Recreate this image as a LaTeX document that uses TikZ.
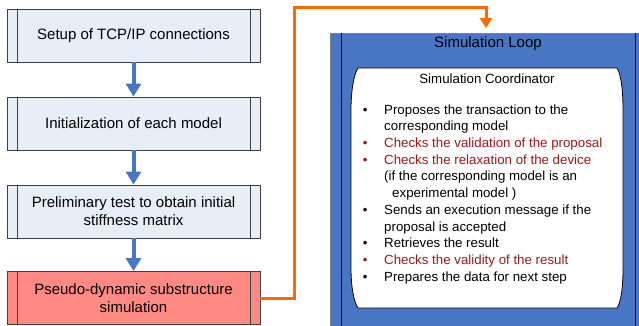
\documentclass[tikz,border=0pt]{standalone}
\usepackage{fontspec}
\setmainfont{Liberation Sans}
\usetikzlibrary{arrows.meta}
\definecolor{boxfill}{RGB}{232,238,248}
\definecolor{redfill}{RGB}{255,138,132}
\definecolor{loopblue}{RGB}{72,118,196}
\definecolor{arrowblue}{RGB}{70,118,198}
\definecolor{orangeline}{RGB}{255,106,0}
\definecolor{darkred}{RGB}{150,28,28}
\definecolor{edgegray}{RGB}{64,64,64}
\begin{document}
\begin{tikzpicture}[x=1pt,y=-1pt,
  procbox/.style={draw=edgegray, line width=0.9pt, fill=boxfill, minimum width=253pt,
    minimum height=53pt, inner sep=0pt, align=center, font=\fontsize{15}{18}\selectfont},
  redbox/.style={procbox, fill=redfill},
  flowarrow/.style={draw=arrowblue, line width=4pt, -{Triangle[width=15pt,length=13pt]}},
  orangearrow/.style={draw=orangeline, line width=3pt, -{Triangle[width=12pt,length=10pt]}},
  sidebar/.style={draw=edgegray, line width=0.9pt},
  titletext/.style={inner sep=0pt, font=\fontsize{15}{18}\selectfont},
  listtext/.style={inner sep=0pt, font=\fontsize{13.3}{16.7}\selectfont}]
\useasboundingbox (0,0) rectangle (639,325);
\clip (0,0) rectangle (639,325);

% left flow
\node[procbox] (b1) at (133.5,35.5) {Setup of TCP/IP connections};
\node[procbox] (b2) at (133.5,123.5) {Initialization of each model};
\node[procbox] (b3) at (133.5,211.5) {Preliminary test to obtain initial\\stiffness matrix};
\node[redbox] (b4) at (133.5,298) {Pseudo-dynamic substructure\\simulation};
\foreach \b in {b1,b2,b3,b4}{
  \draw[sidebar] ([xshift=10.5pt]\b.north west) -- ([xshift=10.5pt]\b.south west);
  \draw[sidebar] ([xshift=-10.5pt]\b.north east) -- ([xshift=-10.5pt]\b.south east);
}
\draw[flowarrow] (b1.south) -- (b2.north);
\draw[flowarrow] (b2.south) -- (b3.north);
\draw[flowarrow] (b3.south) -- (b4.north);

% simulation loop
\node[draw=gray, line width=0.9pt, fill=loopblue, minimum width=316pt, minimum height=310pt,
  anchor=north west, inner sep=0pt] (loop) at (330,33) {};
\draw[line width=0.9pt, black] ([xshift=11pt]loop.north west) -- ([xshift=11pt]loop.south west);
\draw[line width=0.9pt, black] ([xshift=-11pt]loop.north east) -- ([xshift=-11pt]loop.south east);
\node[titletext] (looptitle) at (488,44) {Simulation Loop};

\coordinate (loopin) at (486,28);
\coordinate (turn) at (294,7);
\draw[orangearrow] (b4.east) -| (turn) -| (loopin);

% coordinator
\draw[black, line width=0.8pt, fill=white] (358,68) -- (617,68)
  .. controls (621,74) and (623,90) .. (623,110) -- (623,268)
  .. controls (623,288) and (621,302) .. (617,308) -- (358,308)
  .. controls (354,302) and (351,288) .. (351,268) -- (351,110)
  .. controls (351,90) and (354,74) .. (358,68) -- cycle;
\node[listtext] (coordtitle) at (487,79) {Simulation Coordinator};
\node[listtext, anchor=north west] (list) at (362.7,102.3) {%
\begin{tabular}{@{}p{21.3pt}@{}l@{}}
\textbullet & Proposes the transaction to the\\
 & corresponding model\\
\textcolor{darkred}{\textbullet} & \textcolor{darkred}{Checks the validation of the proposal}\\
\textcolor{darkred}{\textbullet} & \textcolor{darkred}{Checks the relaxation of the device}\\
 & (if the corresponding model is an\\
 & \hspace*{8pt}experimental model )\\
\textbullet & Sends an execution message if the\\
 & proposal is accepted\\
\textbullet & Retrieves the result\\
\textcolor{darkred}{\textbullet} & \textcolor{darkred}{Checks the validity of the result}\\
\textbullet & Prepares the data for next step
\end{tabular}};
\end{tikzpicture}
\end{document}
